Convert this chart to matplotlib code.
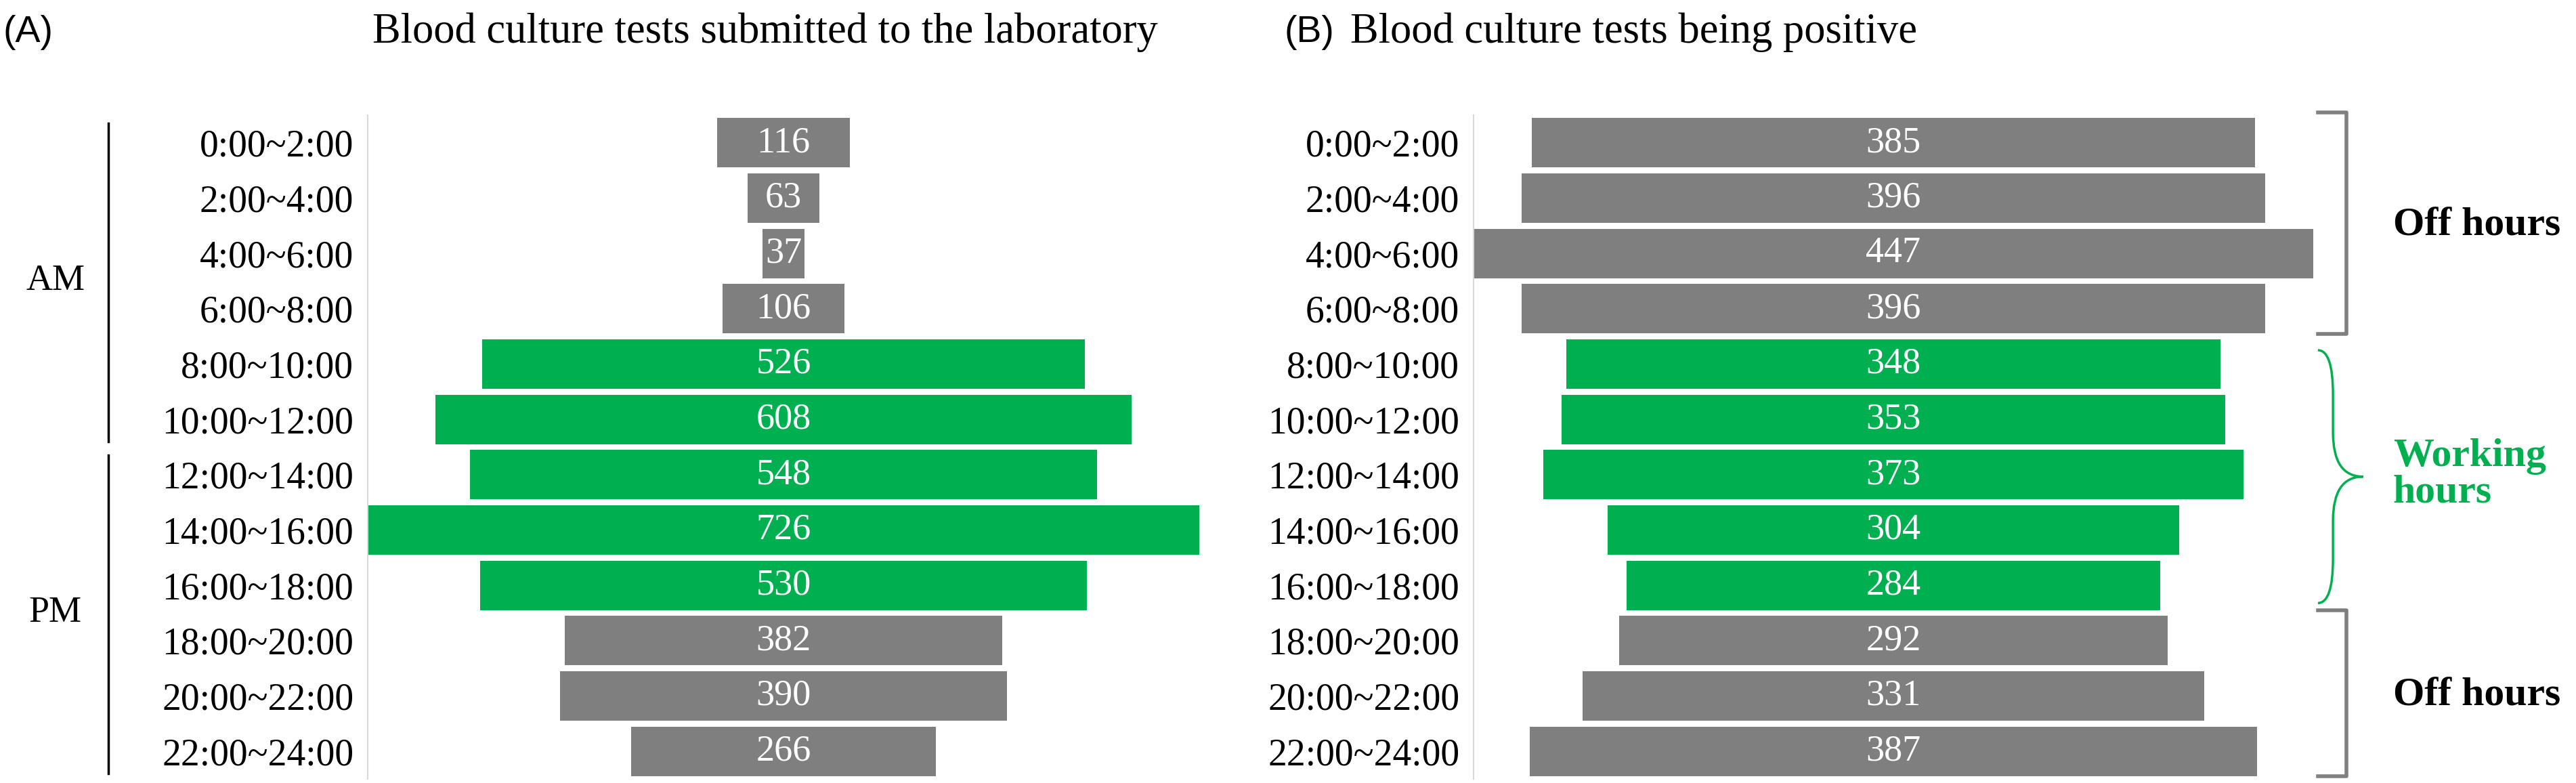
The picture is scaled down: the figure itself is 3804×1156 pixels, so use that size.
import numpy as np
import matplotlib
matplotlib.use("Agg")
import matplotlib.pyplot as plt
from matplotlib.path import Path
from matplotlib.patches import PathPatch
from matplotlib import transforms

# Data
SLOTS = ["0:00~2:00", "2:00~4:00", "4:00~6:00", "6:00~8:00", "8:00~10:00",
         "10:00~12:00", "12:00~14:00", "14:00~16:00", "16:00~18:00",
         "18:00~20:00", "20:00~22:00", "22:00~24:00"]
SUBMITTED = [116, 63, 37, 106, 526, 608, 548, 726, 530, 382, 390, 266]
POSITIVE = [385, 396, 447, 396, 348, 353, 373, 304, 284, 292, 331, 387]
WORKING = [False, False, False, False, True, True, True, True, True,
           False, False, False]
HALF_DAY = [("AM", 0, 5), ("PM", 6, 11)]
HOUR_GROUPS = [("Off hours", 0, 3, "bracket"), ("Working\nhours", 4, 8, "brace"),
               ("Off hours", 9, 11, "bracket")]

GRAY = "#7f7f7f"
GREEN = "#00b050"
SERIF = "Liberation Serif"
W, H = 3804, 1156


def pyramid(ax, values):
    y = np.arange(len(values))
    vals = np.array(values)
    colors = [GREEN if w else GRAY for w in WORKING]
    ax.barh(y, vals, left=-vals / 2, height=0.89, color=colors)
    for yi, v in zip(y, vals):
        ax.text(0, yi, str(v), ha="center", va="center", color="white",
                fontsize=39, family=SERIF)
    half = max(values) / 2
    ax.set_xlim(-half, half)
    ax.set_ylim(len(values) - 0.5, -0.5)
    ax.set_yticks(y)
    ax.set_yticklabels(SLOTS, family=SERIF, fontsize=40)
    ax.tick_params(axis="y", length=0, pad=15)
    ax.set_xticks([])
    for s in ["top", "right", "bottom"]:
        ax.spines[s].set_visible(False)
    ax.spines["left"].set_color("#d9d9d9")
    ax.spines["left"].set_linewidth(1.5)


def curly_brace(ax, y0, y1, xa, xb, xt, color):
    ym = (y0 + y1) / 2
    q = 0.8
    verts = [(xa, y0), (xb, y0), (xb, y0 + q), (xb, ym - q), (xb, ym), (xt, ym),
             (xb, ym), (xb, ym + q), (xb, y1 - q), (xb, y1), (xa, y1)]
    codes = [Path.MOVETO, Path.CURVE3, Path.CURVE3, Path.LINETO, Path.CURVE3,
             Path.CURVE3, Path.CURVE3, Path.CURVE3, Path.LINETO, Path.CURVE3,
             Path.CURVE3]
    ax.add_patch(PathPatch(Path(verts, codes), fill=False, edgecolor=color,
                           lw=2.5, clip_on=False))


def square_bracket(ax, y0, y1, xa, xb, color):
    ax.plot([xa, xb, xb, xa], [y0, y0, y1, y1], color=color, lw=4,
            solid_joinstyle="round", clip_on=False)


fig = plt.figure(figsize=(W / 100, H / 100), dpi=100)
axA = fig.add_axes([543 / W, 6 / H, 1228 / W, 980 / H])
axB = fig.add_axes([2176 / W, 6 / H, 1240 / W, 980 / H])
pyramid(axA, SUBMITTED)
pyramid(axB, POSITIVE)

# titles
fig.text(4 / W, 1 - 48 / H, "(A)", ha="left", va="center", fontsize=40,
         family="Liberation Sans")
fig.text(1130 / W, 1 - 48 / H, "Blood culture tests submitted to the laboratory",
         ha="center", va="center", fontsize=45, family=SERIF)
fig.text(1897 / W, 1 - 48 / H, "(B)", ha="left", va="center", fontsize=40,
         family="Liberation Sans")
fig.text(1994 / W, 1 - 48 / H, "Blood culture tests being positive",
         ha="left", va="center", fontsize=45, family=SERIF)

# AM / PM markers
trA = transforms.blended_transform_factory(fig.transFigure, axA.transData)
for name, a, b in HALF_DAY:
    axA.plot([160 / W, 160 / W], [a - 0.35, b + 0.4], color="black", lw=2.5,
             transform=trA, clip_on=False)
    axA.text(82 / W, (a + b) / 2, name, ha="center", va="center", fontsize=39,
             family=SERIF, transform=trA)

# Off / working hours markers
for name, a, b, kind in HOUR_GROUPS:
    if kind == "brace":
        curly_brace(axB, a - 0.25, b + 0.32, 226, 234, 250, GREEN)
        color = GREEN
    else:
        square_bracket(axB, a - 0.55, b + 0.45, 226, 241, GRAY)
        color = "black"
    axB.text(266, (a + b) / 2, name, ha="left", va="center", fontsize=43,
             family=SERIF, weight="bold", color=color, linespacing=1.0,
             clip_on=False)

fig.savefig("out.png", dpi=100)
